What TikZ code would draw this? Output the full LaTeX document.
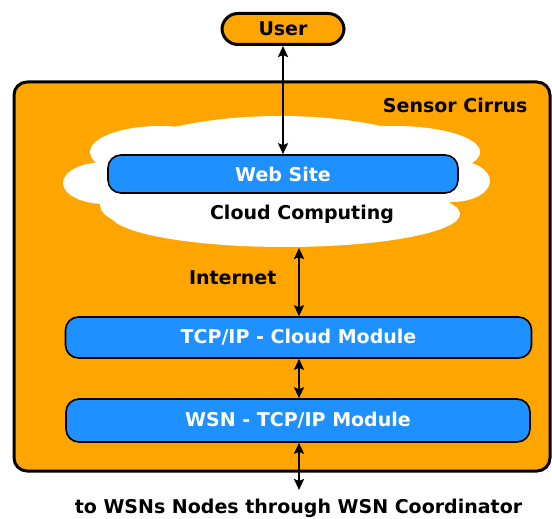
\documentclass[tikz,border=0pt]{standalone}
\usepackage{fontspec}
\setmainfont{DejaVu Sans}
\usetikzlibrary{arrows.meta}
\tikzset{>={Stealth[length=11pt,width=10pt,inset=2pt]}}
\definecolor{boxorange}{HTML}{FFA500}
\definecolor{modblue}{HTML}{1E90FF}
\tikzset{
    lbl/.style={font=\fontsize{19}{22}\selectfont\bfseries, text=black},
    modbox/.style={draw=black, line width=1.6pt, fill=modblue, rounded corners=13pt,
        font=\fontsize{19}{22}\selectfont\bfseries, text=white, inner sep=0pt},
    link/.style={<->, line width=2.2pt},
}

\begin{document}
\begin{tikzpicture}[x=1pt,y=-1pt]
    \useasboundingbox (0,0) rectangle (552,519);
    %outer box
    \node[draw=black, line width=3pt, fill=boxorange, rounded corners=13pt,
        minimum width=536pt, minimum height=389pt, inner sep=0pt] (cirrus) at (282,276.5) {};
    \node[lbl, anchor=east] (cirruslbl) at (531,105) {Sensor Cirrus};
    %cloud
    \foreach \cx/\cy/\rx/\ry in {280/178/185/62, 105/183/42/21, 160/152/70/26,
        395/152/85/26, 452/181/38/21, 285/214/175/33, 160/205/60/24}
    {\fill[white] (\cx,\cy) ellipse [x radius=\rx pt, y radius=\ry pt];}
    %user
    \node[draw=black, line width=3pt, fill=boxorange, rounded corners=16pt,
        minimum width=122pt, minimum height=31pt, lbl] (user) at (283,29) {User};
    %modules
    \node[modbox, minimum width=350pt, minimum height=38pt] (web) at (283,174) {Web Site};
    \node[lbl] (cloudlbl) at (302,214) {Cloud Computing};
    \node[lbl, anchor=east] (net) at (280,278) {Internet};
    \node[modbox, minimum width=466pt, minimum height=41pt] (tcp) at (298.5,337.5) {TCP/IP - Cloud Module};
    \node[modbox, minimum width=464pt, minimum height=43pt] (wsn) at (298,420.5) {WSN - TCP/IP Module};
    \node[lbl] (wsnlbl) at (298.5,508) {to WSNs Nodes through WSN Coordinator};
    %links
    \coordinate (cloudend) at (299,248);
    \coordinate (wsnend) at (299,490);
    \draw[link] (user.south) -- (web.north);
    \draw[link] (cloudend) -- (tcp.north -| cloudend);
    \draw[link] (tcp.south -| cloudend) -- (wsn.north -| cloudend);
    \draw[link] (wsn.south -| wsnend) -- (wsnend);
\end{tikzpicture}
\end{document}
